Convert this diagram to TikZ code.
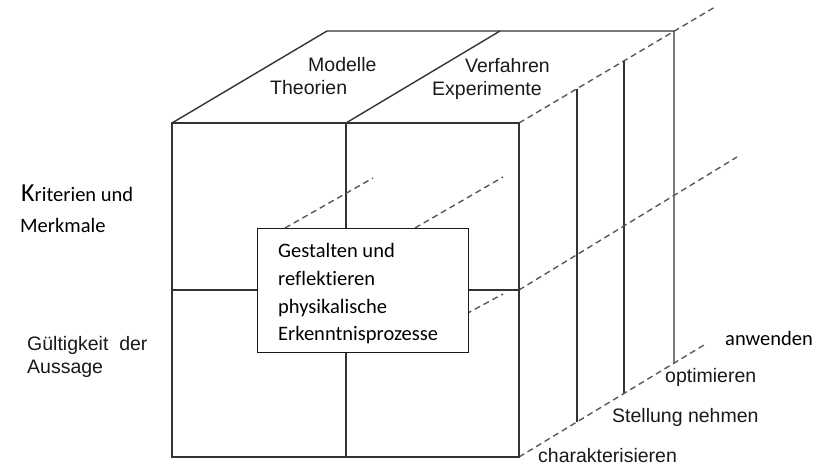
\documentclass[tikz,border=0pt]{standalone}
\usepackage{fontspec}
\setmainfont{Liberation Sans}
\newfontfamily\calibfont{Carlito}[Ligatures={NoCommon,NoContextual}]
\begin{document}
\begin{tikzpicture}[x=1pt,y=-1pt,
  edge/.style={draw=black!80, line width=1.4pt},
  dashline/.style={draw=black!65, line width=1.4pt, dash pattern=on 6pt off 4pt},
  arial/.style={inner sep=0pt, anchor=base west, font=\fontsize{19.5}{22}\selectfont, text=black!90},
  calib/.style={inner sep=0pt, anchor=base west, font=\calibfont\fontsize{20.5}{24}\selectfont, text=black}]
\useasboundingbox (0,0) rectangle (825,469);
% right face and top face
\draw[edge] (172,123) -- (327,31) -- (674,31) -- (674,363);
\draw[edge] (346,123) -- (500,31);
\draw[edge] (577,89) -- (577,422);
\draw[edge] (624,61) -- (624,394);
\draw[dashline] (519,123) -- (715,7);
\draw[dashline] (519,290) -- (737,157);
\draw[dashline] (519,457) -- (704,345);
% front face
\draw[edge] (172,123) rectangle (519,457);
\draw[edge] (346,123) -- (346,457);
\draw[edge] (172,290) -- (519,290);
% inner dashed lines
\draw[dashline] (285,228) -- (373,178);
\draw[dashline] (415,228) -- (503,177);
\draw[dashline] (466,314) -- (503,294);
% central box
\node[draw=black!90, line width=1.4pt, fill=white, inner sep=0pt, minimum width=211pt, minimum height=124pt, anchor=north west] (box) at (257,228) {};
\begin{scope}
\clip (257,228) rectangle (468,343);
\node[calib] (t1) at (278,257) {Gestalten und};
\node[calib] (t2) at (278,285) {reflektieren};
\node[calib] (t3) at (278,313) {physikalische};
\node[calib] (t4) at (278,340) {Erkenntnisprozesse};
\end{scope}
% top labels
\node[arial] (mod) at (308,71) {Modelle};
\node[arial] (theo) at (270,94) {Theorien};
\node[arial] (verf) at (465,72) {Verfahren};
\node[arial] (exp) at (432,95) {Experimente};
% left labels
\node[calib] (krit) at (21,201) {{\fontsize{26}{28}\selectfont K}riterien und};
\node[calib] (merk) at (20,232) {Merkmale};
\node[arial] (gue) at (27,350) {Gültigkeit\ \ der};
\node[arial] (aus) at (27,373) {Aussage};
% right labels
\node[calib] (anw) at (725,345) {anwenden};
\node[arial] (opt) at (665,382) {optimieren};
\node[arial] (stel) at (612,422) {Stellung nehmen};
\node[arial] (char) at (538,462) {charakterisieren};
\end{tikzpicture}
\end{document}
